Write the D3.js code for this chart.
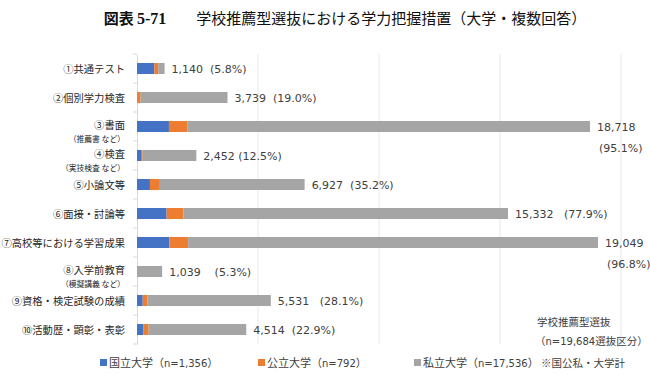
<!DOCTYPE html>
<html><head><meta charset="utf-8">
<script src="https://cdn.jsdelivr.net/npm/d3@7"></script>
<style>
body{margin:0;background:#fff;}
svg{font-family:"Noto Sans CJK JP","Noto Sans",sans-serif;}
</style></head>
<body><svg id="c" width="650" height="375"></svg>
<script>
const categories=["①共通テスト","②個別学力検査","③書面","④検査","⑤小論文等","⑥面接・討論等","⑦高校等における学習成果","⑧入学前教育","⑨資格・検定試験の成績","⑩活動歴・顕彰・表彰"];
const subLabels=["","","（推薦書 など）","（実技検査 など）","","","","（模擬講義 など）","",""];
const national=[715,20,1320,165,535,1225,1335,20,235,260];
const publicU=[165,130,770,70,410,690,780,0,190,220];
const privateU=[260,3589,16628,2217,5982,13417,16934,1019,5106,4034];
const totalLabels=["1,140","3,739","18,718","2,452","6,927","15,332","19,049","1,039","5,531","4,514"];
const pctLabels=["(5.8%)","(19.0%)","(95.1%)","(12.5%)","(35.2%)","(77.9%)","(96.8%)","(5.3%)","(28.1%)","(22.9%)"];
const twoLine=[false,false,true,false,false,false,true,false,false,false];
const gaps=["  ","  ",""," ","  ","   ","","    ","   ","  "];
const gridTicks=[5000,10000,15000,20000];
const seriesNames=["国立大学（n=1,356）","公立大学（n=792）","私立大学（n=17,536）"];
const colors=["#4472C4","#ED7D31","#A5A5A5"];
const numFont="'DejaVu Sans','Noto Sans CJK JP',sans-serif";

const svg=d3.select("#c");
// title
const t=svg.append("text").attr("x",345).attr("y",24).attr("text-anchor","middle").attr("font-size",15).attr("fill","#111");
t.append("tspan").text("図表 ").attr("font-weight","bold");
t.append("tspan").text("5-71").style("font-family","'Liberation Serif',serif").attr("font-weight","bold").attr("font-size",16);
t.append("tspan").text("　　学校推薦型選抜における学力把握措置（大学・複数回答）");

const x=d3.scaleLinear().domain([0,20000]).range([137,621]);
const y=d3.scaleBand().domain(categories).range([54,344]).paddingInner(0.62).paddingOuter(0.31);
const band=d3.scaleBand().domain(categories).range([54,344]);

// grid
svg.append("g").selectAll("line").data(gridTicks).join("line")
 .attr("x1",d=>x(d)).attr("x2",d=>x(d)).attr("y1",54).attr("y2",344)
 .attr("stroke","#e8e8e8").attr("stroke-width",1);
// axis
const ax=svg.append("g").attr("transform","translate(137,0)").call(d3.axisLeft(band).tickSize(0).tickFormat(""));
ax.select(".domain").attr("stroke","#d9d9d9");
svg.append("g").selectAll("line").data(d3.range(categories.length+1)).join("line")
 .attr("x1",133).attr("x2",137).attr("y1",i=>54+i*band.step()).attr("y2",i=>54+i*band.step())
 .attr("stroke","#d9d9d9");

const rows=categories.map((c,i)=>({c,i,vals:[national[i],publicU[i],privateU[i]]}));
const stack=d3.stack().keys([0,1,2])(rows.map(r=>r.vals));
svg.append("g").selectAll("g").data(stack).join("g").attr("fill",(d,k)=>colors[k])
 .selectAll("rect").data(d=>d).join("rect")
 .attr("x",d=>x(d[0])).attr("width",d=>x(d[1])-x(d[0]))
 .attr("y",(d,i)=>y(categories[i])).attr("height",y.bandwidth());

// category labels
const lab=svg.append("g");
rows.forEach(r=>{
  const cy=band(r.c)+band.bandwidth()/2;
  const hasSub=subLabels[r.i]!=="";
  lab.append("text").attr("x",125).attr("y",cy+(hasSub?2:4)).attr("text-anchor","end")
   .attr("font-size",10.3).attr("fill","#262626").text(r.c);
  if(hasSub) lab.append("text").attr("x",125).attr("y",cy+15).attr("text-anchor","end")
   .attr("font-size",7.8).attr("fill","#262626").text(subLabels[r.i]);
});

// value labels
const vl=svg.append("g").attr("font-size",11).attr("fill","#404040").style("font-family",numFont);
rows.forEach(r=>{
  const tot=d3.sum(r.vals);
  const cy=band(r.c)+band.bandwidth()/2;
  const x0=x(tot)+7;
  if(twoLine[r.i]){
    vl.append("text").attr("x",x0).attr("y",cy+4).text(totalLabels[r.i]);
    vl.append("text").attr("x",x0+2).attr("y",cy+25).text(pctLabels[r.i]);
  }else{
    vl.append("text").attr("x",x0).attr("y",cy+4).style("white-space","pre")
      .text(totalLabels[r.i]+gaps[r.i]+pctLabels[r.i]);
  }
});

// notes
const nt=svg.append("g").attr("font-size",10.5).attr("fill","#404040");
nt.append("text").attr("x",537).attr("y",326).text("学校推薦型選抜");
const n2=nt.append("text").attr("x",535).attr("y",345);
n2.append("tspan").text("（");
n2.append("tspan").style("font-family",numFont).attr("font-size",10).text("n=19,684");
n2.append("tspan").text("選抜区分）");
nt.append("text").attr("x",541).attr("y",367).text("※国公私・大学計");

// legend
const lx=[100,258,414];
const lg=svg.append("g").selectAll("g").data(seriesNames).join("g")
 .attr("transform",(d,i)=>`translate(${lx[i]},367)`);
lg.append("rect").attr("x",0).attr("y",-8).attr("width",7).attr("height",7).attr("fill",(d,i)=>colors[i]);
lg.append("text").attr("x",9).attr("y",0).attr("font-size",11).attr("fill","#404040")
 .each(function(d){
   const m=d.match(/^(.*（)(.*)(）)$/);
   const s=d3.select(this);
   s.append("tspan").text(m[1]);
   s.append("tspan").style("font-family",numFont).attr("font-size",10).text(m[2]);
   s.append("tspan").text(m[3]);
 });
</script></body></html>
